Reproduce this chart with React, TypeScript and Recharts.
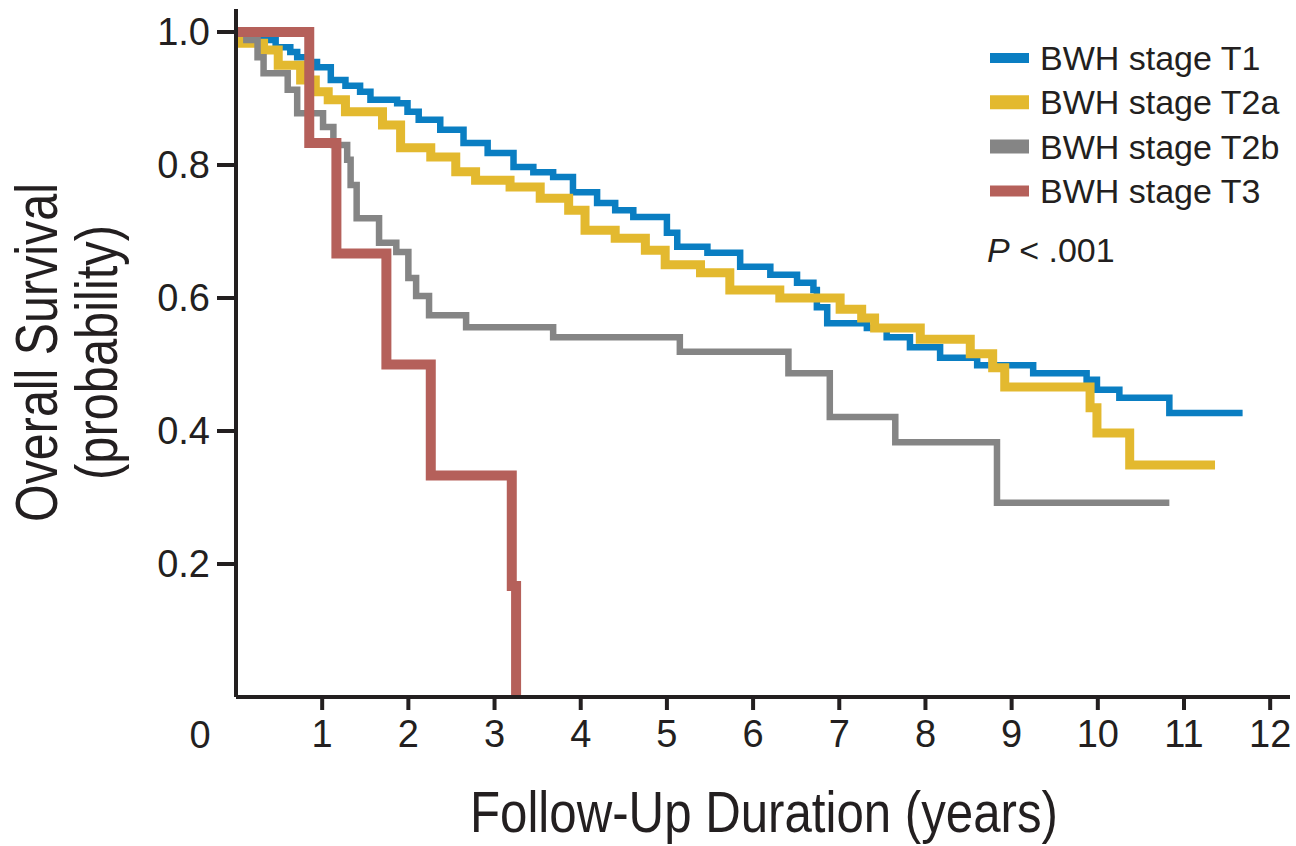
import { LineChart, Line, XAxis, YAxis } from "recharts";

// follow-up in years, survival probability
const t1Years = [0, 0.28, 0.46, 0.63, 0.71, 0.86, 0.94, 1.1, 1.27, 1.44, 1.56, 1.87, 1.99, 2.12, 2.37, 2.64, 2.92, 3.22, 3.45, 3.68, 3.91, 4.19, 4.4, 4.61, 5.0, 5.12, 5.47, 5.85, 6.2, 6.51, 6.7, 6.74, 6.86, 7.32, 7.55, 7.82, 8.17, 8.6, 9.25, 9.87, 9.99, 10.25, 10.83, 11.68];
const t1Surv = [1, 0.988, 0.977, 0.97, 0.962, 0.955, 0.947, 0.928, 0.919, 0.91, 0.898, 0.893, 0.88, 0.868, 0.853, 0.833, 0.818, 0.797, 0.789, 0.782, 0.759, 0.743, 0.732, 0.722, 0.698, 0.677, 0.668, 0.647, 0.635, 0.623, 0.612, 0.586, 0.562, 0.555, 0.541, 0.526, 0.51, 0.499, 0.487, 0.477, 0.462, 0.45, 0.427, 0.427];

const t2aYears = [0, 0.05, 0.32, 0.49, 0.75, 0.92, 1.07, 1.27, 1.7, 1.91, 2.26, 2.55, 2.78, 3.18, 3.53, 3.86, 4.05, 4.4, 4.75, 4.98, 5.39, 5.73, 6.31, 7.01, 7.26, 7.41, 7.94, 8.52, 8.78, 8.92, 9.91, 9.99, 10.37, 11.36];
const t2aSurv = [1, 0.983, 0.973, 0.95, 0.928, 0.91, 0.898, 0.88, 0.86, 0.826, 0.812, 0.79, 0.777, 0.767, 0.75, 0.732, 0.702, 0.69, 0.672, 0.65, 0.638, 0.612, 0.6, 0.583, 0.57, 0.555, 0.538, 0.516, 0.495, 0.466, 0.435, 0.397, 0.349, 0.349];

const t2bYears = [0, 0.12, 0.25, 0.32, 0.6, 0.71, 1.01, 1.13, 1.29, 1.33, 1.4, 1.66, 1.86, 2.0, 2.09, 2.24, 2.67, 3.68, 5.15, 6.41, 6.89, 7.65, 8.83, 10.83];
const t2bSurv = [1, 0.988, 0.962, 0.938, 0.913, 0.878, 0.857, 0.83, 0.808, 0.77, 0.72, 0.683, 0.669, 0.63, 0.603, 0.574, 0.556, 0.541, 0.519, 0.487, 0.421, 0.383, 0.292, 0.292];

const t3Years = [0, 0.85, 1.165, 1.745, 2.26, 3.2, 3.25];
const t3Surv = [1, 0.833, 0.667, 0.5, 0.333, 0.167, 0];

const xTicks = [1, 2, 3, 4, 5, 6, 7, 8, 9, 10, 11, 12];
const yTicks = [0.2, 0.4, 0.6, 0.8, 1.0];

const ink = "#231f20";
const font = "'Liberation Sans', Arial, sans-serif";

const series = [
  { name: "BWH stage T1", years: t1Years, surv: t1Surv, color: "#0a7ec2", width: 6.5, swatch: 10 },
  { name: "BWH stage T2a", years: t2aYears, surv: t2aSurv, color: "#e3b92f", width: 9, swatch: 14 },
  { name: "BWH stage T2b", years: t2bYears, surv: t2bSurv, color: "#858585", width: 6.5, swatch: 14 },
  { name: "BWH stage T3", years: t3Years, surv: t3Surv, color: "#b5605a", width: 10, swatch: 11 },
];

function toPoints(years: number[], surv: number[]) {
  return years.map((t, i) => ({ t, y: surv[i] }));
}

export default function App() {
  return (
    <div style={{ position: "absolute", left: 0, top: 0, width: 1296, height: 846, background: "#fff" }}>
      <LineChart width={1296} height={846} margin={{ top: 9, right: 6, bottom: 89, left: 136 }}>
        <XAxis
          dataKey="t"
          type="number"
          domain={[0, 12.23]}
          ticks={xTicks}
          interval={0}
          allowDataOverflow
          tickSize={13}
          tickMargin={10}
          height={60}
          axisLine={{ stroke: ink, strokeWidth: 4 }}
          tickLine={{ stroke: ink, strokeWidth: 4 }}
          tick={{ fill: ink, fontSize: 38, fontFamily: font }}
        />
        <YAxis
          type="number"
          domain={[0, 1.0346]}
          ticks={yTicks}
          interval={0}
          allowDataOverflow
          width={100}
          tickSize={19}
          tickMargin={7}
          axisLine={{ stroke: ink, strokeWidth: 4 }}
          tickLine={{ stroke: ink, strokeWidth: 4 }}
          tick={{ fill: ink, fontSize: 38, fontFamily: font }}
          tickFormatter={(v: number) => v.toFixed(1)}
        />
        {series.map((s) => (
          <Line
            key={s.name}
            data={toPoints(s.years, s.surv)}
            dataKey="y"
            type="stepAfter"
            stroke={s.color}
            strokeWidth={s.width}
            dot={false}
            activeDot={false}
            isAnimationActive={false}
          />
        ))}
      </LineChart>

      <svg
        width={1296}
        height={846}
        style={{ position: "absolute", left: 0, top: 0, pointerEvents: "none" }}
        fontFamily={font}
        fill={ink}
      >
        <text x={200} y={748} fontSize={38} textAnchor="middle">0</text>

        <text x={470} y={832} fontSize={58} textLength={588} lengthAdjust="spacingAndGlyphs">
          Follow-Up Duration (years)
        </text>
        <g transform="translate(57, 352.5) rotate(-90)">
          <text x={-169.5} y={0} fontSize={60} textLength={339} lengthAdjust="spacingAndGlyphs">
            Overall Survival
          </text>
        </g>
        <g transform="translate(117, 352.5) rotate(-90)">
          <text x={-127.5} y={0} fontSize={60} textLength={255} lengthAdjust="spacingAndGlyphs">
            (probability)
          </text>
        </g>

        {series.map((s, i) => {
          const base = 70 + i * 44.3;
          return (
            <g key={s.name}>
              <line x1={990} x2={1029} y1={base - 12} y2={base - 12} stroke={s.color} strokeWidth={s.swatch} />
              <text x={1040} y={base} fontSize={34}>{s.name}</text>
            </g>
          );
        })}
        <text x={987} y={262} fontSize={34}>
          <tspan fontStyle="italic">P</tspan> &lt; .001
        </text>
      </svg>
    </div>
  );
}
